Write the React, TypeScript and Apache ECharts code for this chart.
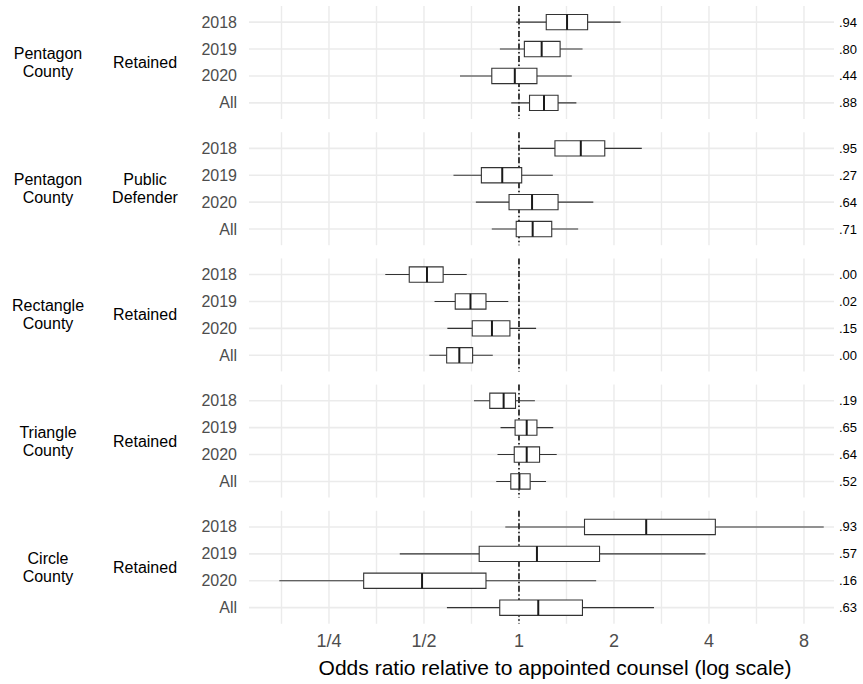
import React, { useEffect, useRef } from 'react';
import * as echarts from 'echarts';

// ---------- data ----------
const years = ['2018', '2019', '2020', 'All'];
const countyLabels = ['Pentagon\nCounty', 'Pentagon\nCounty', 'Rectangle\nCounty', 'Triangle\nCounty', 'Circle\nCounty'];
const counselLabels = ['Retained', 'Public\nDefender', 'Retained', 'Retained', 'Retained'];

// rows: 2018, 2019, 2020, All ; each [whiskerLow, q1, median, q3, whiskerHigh] (odds ratios)
const pentagonRetained = [
  [0.98, 1.22, 1.42, 1.65, 2.1],
  [0.87, 1.04, 1.18, 1.35, 1.59],
  [0.65, 0.82, 0.97, 1.14, 1.47],
  [0.945, 1.08, 1.2, 1.33, 1.52],
];
const pentagonPublicDefender = [
  [1.01, 1.3, 1.57, 1.87, 2.45],
  [0.62, 0.76, 0.885, 1.02, 1.28],
  [0.73, 0.93, 1.1, 1.33, 1.72],
  [0.82, 0.98, 1.105, 1.27, 1.54],
];
const rectangleRetained = [
  [0.377, 0.449, 0.511, 0.575, 0.683],
  [0.54, 0.628, 0.702, 0.786, 0.925],
  [0.593, 0.711, 0.821, 0.936, 1.133],
  [0.52, 0.59, 0.647, 0.713, 0.826],
];
const triangleRetained = [
  [0.72, 0.808, 0.894, 0.975, 1.123],
  [0.874, 0.972, 1.058, 1.14, 1.284],
  [0.855, 0.966, 1.058, 1.162, 1.317],
  [0.847, 0.942, 1.003, 1.085, 1.218],
];
const circleRetained = [
  [0.905, 1.613, 2.53, 4.19, 9.24],
  [0.419, 0.748, 1.14, 1.8, 3.9],
  [0.174, 0.322, 0.493, 0.786, 1.756],
  [0.591, 0.869, 1.151, 1.589, 2.678],
];
const panels = [pentagonRetained, pentagonPublicDefender, rectangleRetained, triangleRetained, circleRetained];

const pValues = [
  ['.94', '.80', '.44', '.88'],
  ['.95', '.27', '.64', '.71'],
  ['.00', '.02', '.15', '.00'],
  ['.19', '.65', '.64', '.52'],
  ['.93', '.57', '.16', '.63'],
];

const tickValues = [0.25, 0.5, 1, 2, 4, 8];
const tickLabels = ['1/4', '1/2', '1', '2', '4', '8'];
const gridValues = [0.1768, 0.25, 0.3536, 0.5, 0.7071, 1, 1.4142, 2, 2.8284, 4, 5.6569, 8];
const referenceValue = 1;
const xTitle = 'Odds ratio relative to appointed counsel (log scale)';

// ---------- layout ----------
const W = 863;
const H = 684;
const PANEL_LEFT = 249;
const PANEL_RIGHT = 29;
const PANEL_TOP0 = 6;
const PANEL_STEP = 126.2;
const PANEL_H = 113;
const X_MIN = -2.842;
const X_MAX = 3.316;
const Y_MIN = -0.6;
const Y_MAX = 3.6;
const FONT = "'Liberation Sans', Arial, Helvetica, sans-serif";

const log2 = (v: number) => Math.log(v) / Math.LN2;

export default function App() {
  const ref = useRef<HTMLDivElement>(null);

  useEffect(() => {
    document.body.style.margin = '0';
    if (!ref.current) return;
    const chart = echarts.init(ref.current, null, { renderer: 'svg' });

    const grids: any[] = [];
    const xAxes: any[] = [];
    const yAxes: any[] = [];
    const series: any[] = [];
    const graphics: any[] = [];

    panels.forEach((rows, i) => {
      const top = PANEL_TOP0 + i * PANEL_STEP;
      grids.push({ left: PANEL_LEFT, right: PANEL_RIGHT, top, height: PANEL_H, containLabel: false });
      xAxes.push({
        type: 'value',
        gridIndex: i,
        min: X_MIN,
        max: X_MAX,
        axisLine: { show: false },
        axisTick: { show: false },
        splitLine: { show: false },
        axisLabel: {
          show: i === panels.length - 1,
          customValues: tickValues.map(log2),
          formatter: (v: number) => {
            const k = tickValues.findIndex((t) => Math.abs(log2(t) - v) < 1e-6);
            return k >= 0 ? tickLabels[k] : '';
          },
          color: '#4D4D4D',
          fontSize: 18,
          fontFamily: FONT,
          margin: 8,
        },
      });
      yAxes.push({
        type: 'value',
        gridIndex: i,
        min: Y_MIN,
        max: Y_MAX,
        inverse: true,
        axisLine: { show: false },
        axisTick: { show: false },
        splitLine: { show: false },
        axisLabel: {
          customValues: [0, 1, 2, 3],
          formatter: (v: number) => years[Math.round(v)] ?? '',
          color: '#4D4D4D',
          fontSize: 16,
          fontFamily: FONT,
          margin: 12,
        },
      });
      yAxes.push({
        type: 'value',
        gridIndex: i,
        position: 'right',
        min: Y_MIN,
        max: Y_MAX,
        inverse: true,
        axisLine: { show: false },
        axisTick: { show: false },
        splitLine: { show: false },
        axisLabel: {
          customValues: [0, 1, 2, 3],
          formatter: (v: number) => pValues[i][Math.round(v)] ?? '',
          color: '#000000',
          fontSize: 13,
          fontFamily: FONT,
          margin: 5,
        },
      });

      // grid lines + reference line
      const gridData: number[][] = [];
      gridValues.forEach((g) => gridData.push([log2(g), 0, 0]));
      years.forEach((_, r) => gridData.push([0, r, 1]));
      gridData.push([log2(referenceValue), 0, 2]);
      series.push({
        type: 'custom',
        xAxisIndex: i,
        yAxisIndex: 2 * i,
        silent: true,
        z: 1,
        data: gridData,
        encode: { x: 0, y: 1 },
        renderItem: (params: any, api: any) => {
          const kind = api.value(2);
          if (kind === 0) {
            const a = api.coord([api.value(0), Y_MIN]);
            const b = api.coord([api.value(0), Y_MAX]);
            return {
              type: 'line',
              shape: { x1: a[0], y1: a[1], x2: b[0], y2: b[1] },
              style: { stroke: '#EBEBEB', lineWidth: 1.4 },
            };
          }
          if (kind === 1) {
            const a = api.coord([X_MIN, api.value(1)]);
            const b = api.coord([X_MAX, api.value(1)]);
            return {
              type: 'line',
              shape: { x1: a[0], y1: a[1], x2: b[0], y2: b[1] },
              style: { stroke: '#EBEBEB', lineWidth: 1.6 },
            };
          }
          const a = api.coord([api.value(0), Y_MIN]);
          const b = api.coord([api.value(0), Y_MAX]);
          return {
            type: 'line',
            z2: 5,
            shape: { x1: a[0], y1: a[1], x2: b[0], y2: b[1] },
            style: { stroke: '#000000', lineWidth: 1.5, lineDash: [6, 2.5, 1.5, 2.5] },
          };
        },
      });

      // boxes
      series.push({
        type: 'custom',
        xAxisIndex: i,
        yAxisIndex: 2 * i,
        silent: true,
        z: 3,
        data: rows.map((r, k) => [k, ...r.map(log2)]),
        encode: { y: 0, x: [1, 2, 3, 4, 5] },
        renderItem: (params: any, api: any) => {
          const y = api.value(0);
          const lo = api.coord([api.value(1), y]);
          const q1 = api.coord([api.value(2), y]);
          const md = api.coord([api.value(3), y]);
          const q3 = api.coord([api.value(4), y]);
          const hi = api.coord([api.value(5), y]);
          const h = Math.abs(api.size([0, 1])[1]) * 0.57;
          return {
            type: 'group',
            children: [
              {
                type: 'line',
                shape: { x1: lo[0], y1: lo[1], x2: hi[0], y2: hi[1] },
                style: { stroke: '#333333', lineWidth: 1.1 },
              },
              {
                type: 'rect',
                shape: { x: q1[0], y: q1[1] - h / 2, width: q3[0] - q1[0], height: h },
                style: { fill: '#FFFFFF', stroke: '#333333', lineWidth: 1.1 },
              },
              {
                type: 'line',
                shape: { x1: md[0], y1: md[1] - h / 2, x2: md[0], y2: md[1] + h / 2 },
                style: { stroke: '#1A1A1A', lineWidth: 2 },
              },
            ],
          };
        },
      });

      const cy = top + PANEL_H / 2;
      graphics.push({
        type: 'text',
        x: 48,
        y: cy,
        style: {
          text: countyLabels[i],
          fill: '#000000',
          font: `16px ${FONT}`,
          lineHeight: 18,
          align: 'center',
          verticalAlign: 'middle',
        },
      });
      graphics.push({
        type: 'text',
        x: 145,
        y: cy,
        style: {
          text: counselLabels[i],
          fill: '#000000',
          font: `16px ${FONT}`,
          lineHeight: 18,
          align: 'center',
          verticalAlign: 'middle',
        },
      });
    });

    graphics.push({
      type: 'text',
      x: 555,
      y: 667,
      style: {
        text: xTitle,
        fill: '#000000',
        font: `21px ${FONT}`,
        align: 'center',
        verticalAlign: 'middle',
      },
    });

    chart.setOption({
      animation: false,
      backgroundColor: '#FFFFFF',
      grid: grids,
      xAxis: xAxes,
      yAxis: yAxes,
      series,
      graphic: graphics,
    });

    return () => chart.dispose();
  }, []);

  return <div ref={ref} style={{ width: W, height: H }} />;
}
